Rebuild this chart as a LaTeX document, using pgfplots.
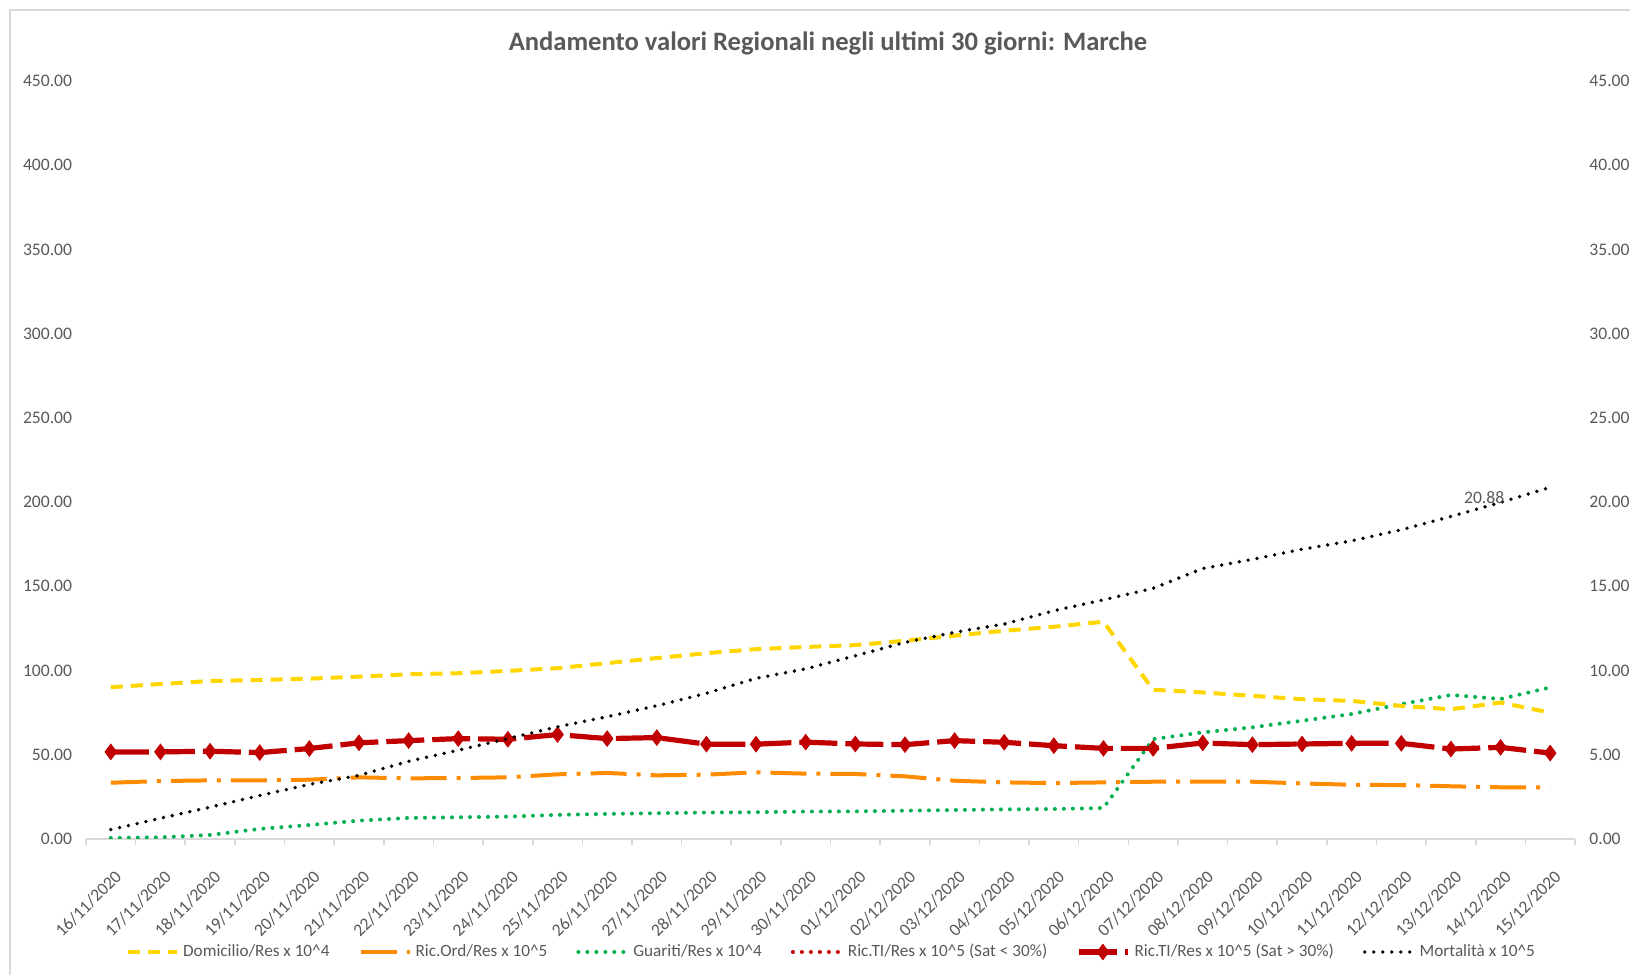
\documentclass[border=0pt]{standalone}
\usepackage{pgfplots}
\usepackage{pgfplotstable}
\pgfplotsset{compat=1.18}
\usepackage{fontspec}
\setmainfont{Carlito}
\definecolor{txtgray}{RGB}{89,89,89}
\definecolor{cdom}{RGB}{255,214,0}
\definecolor{cord}{RGB}{255,140,0}
\definecolor{cgua}{RGB}{0,176,80}
\definecolor{cred}{RGB}{192,0,0}
\definecolor{axgray}{RGB}{217,217,217}

\pgfplotstableread{
x dom ord gua ti
0 90.1 33.4 0.6 51.7
1 92.0 34.4 1.0 51.7
2 93.8 34.8 2.4 52.1
3 94.4 34.8 6.0 51.3
4 95.2 35.2 8.3 53.7
5 96.4 36.6 10.9 57.1
6 97.8 36.0 12.5 58.4
7 98.4 36.2 12.9 59.6
8 99.8 36.6 13.3 59.2
9 101.4 38.4 14.3 62.0
10 104.4 39.2 14.9 59.6
11 107.4 37.8 15.3 60.2
12 110.3 38.2 15.7 56.3
13 112.7 39.6 15.9 56.3
14 114.0 38.8 16.3 57.5
15 115.1 38.6 16.4 56.4
16 117.7 37.2 16.8 56.0
17 120.7 34.6 17.2 58.4
18 123.6 33.6 17.6 57.4
19 126.0 33.2 17.8 55.4
20 129.0 33.6 18.4 53.8
21 88.6 34.0 59.3 53.8
22 87.0 34.0 63.3 57.0
23 85.0 34.0 66.3 56.0
24 83.0 33.0 70.2 56.4
25 82.0 32.2 74.2 56.8
26 79.0 32.0 80.1 56.8
27 77.0 31.3 85.5 53.4
28 81.0 30.7 83.1 54.4
29 75.0 30.7 90.0 51.0
}\datatab

\pgfplotstableread{
x mor
0 0.56
1 1.23
2 1.89
3 2.58
4 3.24
5 3.78
6 4.61
7 5.27
8 5.96
9 6.66
10 7.26
11 7.91
12 8.65
13 9.54
14 10.10
15 10.88
16 11.67
17 12.27
18 12.76
19 13.55
20 14.20
21 14.88
22 16.06
23 16.60
24 17.20
25 17.70
26 18.36
27 19.15
28 19.98
29 20.88
}\mortab

\tikzset{
  sdom/.style={draw=cdom, line width=2pt, dash pattern=on 6pt off 4pt},
  sord/.style={draw=cord, line width=2pt, dash pattern=on 18pt off 5pt on 2pt off 5pt},
  sgua/.style={draw=cgua, line width=2pt, line cap=round, dash pattern=on 0pt off 4.5pt},
  sredlo/.style={draw=cred, line width=2pt, line cap=round, dash pattern=on 0pt off 4.5pt},
  sti/.style={draw=cred, line width=2.6pt, dash pattern=on 19pt off 4pt, mark=diamond*, mark size=3.8pt, mark options={solid, fill=cred, draw=cred, line width=0.5pt}},
  smor/.style={draw=black, line width=1.9pt, line cap=round, dash pattern=on 0pt off 4.5pt},
}

\pgfplotsset{
  common/.style={
    at={(43pt,68pt)}, anchor=south west, scale only axis,
    width=744.5pt, height=379pt,
    xmin=-0.5, xmax=29.5,
    /pgf/number format/assume math mode=true,
    tick label style={font=\fontsize{8.8}{10}\selectfont, text=txtgray},
  },
}

\begin{document}
\begin{tikzpicture}
\useasboundingbox (0pt,0pt) rectangle (815pt,487.5pt);
\fill[white] (0pt,0pt) rectangle (815pt,487.5pt);
\draw[axgray, line width=1.2pt] (5pt,0pt) -- (5pt,482.5pt) -- (820pt,482.5pt);
\node[font=\bfseries\fontsize{13.3}{16}\selectfont, text=txtgray] at (414pt,466pt) {Andamento valori Regionali negli ultimi 30 giorni: Marche};

\begin{axis}[common,
  ymin=0, ymax=450,
  axis x line*=bottom, axis y line*=left,
  y axis line style={draw=none},
  x axis line style={draw=axgray, line width=0.8pt, -},
  ytick={0,50,...,450},
  yticklabel style={/pgf/number format/.cd, fixed, fixed zerofill, precision=2, /tikz/.cd, anchor=east, inner sep=0pt, xshift=-2.5pt},
  ytick style={draw=none},
  xtick={0,...,29},
  xticklabels={16/11/2020,17/11/2020,18/11/2020,19/11/2020,20/11/2020,21/11/2020,22/11/2020,23/11/2020,24/11/2020,25/11/2020,26/11/2020,27/11/2020,28/11/2020,29/11/2020,30/11/2020,01/12/2020,02/12/2020,03/12/2020,04/12/2020,05/12/2020,06/12/2020,07/12/2020,08/12/2020,09/12/2020,10/12/2020,11/12/2020,12/12/2020,13/12/2020,14/12/2020,15/12/2020},
  xticklabel style={xshift=1.5pt, yshift=-10.5pt, rotate=45, anchor=north east, inner sep=0pt},
  major x tick style={draw=none},
  minor xtick={-0.5,0.5,...,29.5},
  minor x tick style={draw=axgray, line width=0.8pt},
  minor tick length=2.8pt,
  tick align=outside,
]
\addplot[sord] table[x=x, y=ord] {\datatab};
\addplot[sgua] table[x=x, y=gua] {\datatab};
\addplot[sdom] table[x=x, y=dom] {\datatab};
\addplot[sti] table[x=x, y=ti] {\datatab};
\end{axis}

\begin{axis}[common,
  ymin=0, ymax=45,
  axis x line=none, axis y line*=right,
  y axis line style={draw=none},
  ytick={0,5,...,45},
  ytick style={draw=none},
  yticklabel style={/pgf/number format/.cd, fixed, fixed zerofill, precision=2, /tikz/.cd, anchor=west, inner sep=0pt, xshift=7pt},
  legend columns=6,
  legend style={draw=none, fill=none, at={(rel axis cs:0.5,0)}, anchor=center, yshift=-56.5pt, xshift=0pt,
     font=\fontsize{8.6}{10}\selectfont, text=txtgray,
     /tikz/every odd column/.append style={column sep=2pt},
     /tikz/every even column/.append style={column sep=14.5pt},
     nodes={inner xsep=0pt}},
  legend image code/.code={\draw[mark repeat=2, mark phase=2, #1] plot coordinates {(0pt,0pt) (12pt,0pt) (24.5pt,0pt)};},
]
\addlegendimage{sdom}
\addlegendentry{Domicilio/Res x 10\string^4}
\addlegendimage{sord}
\addlegendentry{Ric.Ord/Res x 10\string^5}
\addlegendimage{sgua}
\addlegendentry{Guariti/Res x 10\string^4}
\addlegendimage{sredlo}
\addlegendentry{Ric.TI/Res x 10\string^5 (Sat < 30\%)}
\addlegendimage{sti}
\addlegendentry{Ric.TI/Res x 10\string^5 (Sat > 30\%)}
\addplot[smor] table[x=x, y=mor] {\mortab};
\addlegendentry{Mortalità x 10\string^5}
\node[font=\fontsize{8.8}{10}\selectfont, text=txtgray] at (axis cs:29,20.88) [xshift=-33pt, yshift=-5pt] {20.88};
\end{axis}
\end{tikzpicture}
\end{document}
